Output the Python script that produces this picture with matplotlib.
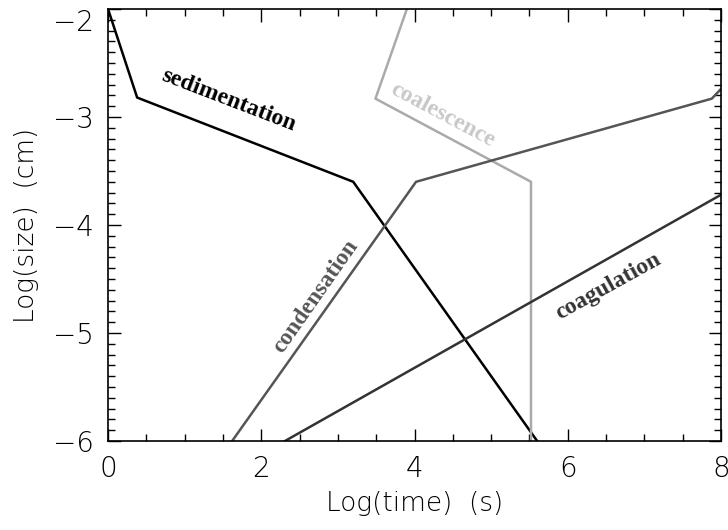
import matplotlib
matplotlib.use('Agg')
import matplotlib.pyplot as plt
from matplotlib.ticker import MultipleLocator

# timescale curves: log(time) vs log(size)
sed_t = [0.0, 0.38, 3.20, 5.60]
sed_s = [-2.0, -2.82, -3.60, -6.0]

coal_t = [3.90, 3.49, 5.52, 5.52]
coal_s = [-2.0, -2.83, -3.60, -6.0]

cond_t = [1.62, 4.02, 7.88, 8.0]
cond_s = [-6.0, -3.60, -2.83, -2.74]

coag_t = [2.31, 8.0]
coag_s = [-6.0, -3.72]

xticks = [0, 2, 4, 6, 8]
yticks = [-6, -5, -4, -3, -2]

plt.rcParams['font.family'] = ['DejaVu Sans']

fig = plt.figure(figsize=(7.28, 5.30), dpi=100)
ax = fig.add_axes([0.1484, 0.168, 0.842, 0.815])

ax.plot(sed_t, sed_s, color='black', lw=1.8)
ax.plot(coal_t, coal_s, color='#aaaaaa', lw=1.8)
ax.plot(cond_t, cond_s, color='#555555', lw=1.8)
ax.plot(coag_t, coag_s, color='#333333', lw=1.8)

ax.set_xticks(xticks, [str(v) for v in xticks])
ax.set_yticks(yticks, ['\u2212%d' % abs(v) for v in yticks])
ax.xaxis.set_minor_locator(MultipleLocator(0.5))
ax.yaxis.set_minor_locator(MultipleLocator(0.1))
ax.set_xlim(0, 8)
ax.set_ylim(-6, -2)
ax.tick_params(which='both', direction='in', top=True, right=True,
               labelsize=20, width=1)
ax.tick_params(which='major', length=9, pad=10)
ax.tick_params(which='minor', length=5)
for sp in ax.spines.values():
    sp.set_linewidth(1.2)

ax.set_xlabel('Log(time)  (s)', fontsize=19, labelpad=6, fontweight='light')
ax.set_ylabel('Log(size)  (cm)', fontsize=19, labelpad=10, fontweight='light')
for lab in ax.get_xticklabels() + ax.get_yticklabels():
    lab.set_fontweight('light')
# top label sits below the frame edge, as in the original
ax.get_yticklabels()[-1].set_va('top')

lab_font = dict(family='Liberation Serif', fontweight='bold', fontsize=17,
                ha='center', va='center', rotation_mode='anchor')
ax.text(1.57, -2.85, 'sedimentation', color='black', rotation=-21, **lab_font)
ax.text(4.37, -2.98, 'coalescence', color='#c8c8c8', rotation=-28, **lab_font)
ax.text(2.71, -4.66, 'condensation', color='#555555', rotation=55, **lab_font)
ax.text(6.53, -4.57, 'coagulation', color='#333333', rotation=29, **lab_font)

fig.savefig('out.png', dpi=100)
